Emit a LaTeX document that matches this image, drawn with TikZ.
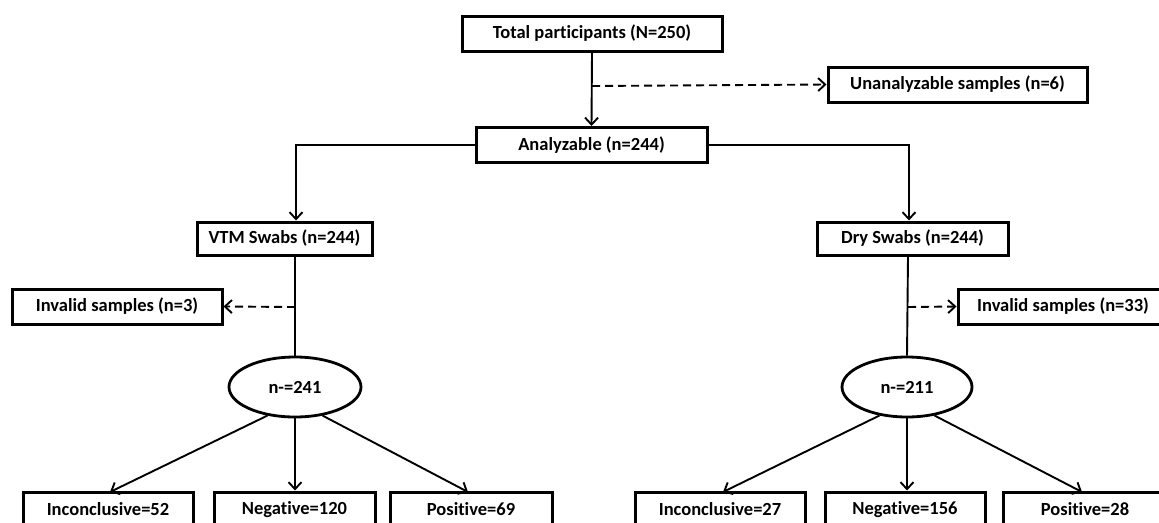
\documentclass[tikz,border=0pt]{standalone}
\usepackage{fontspec}
\setmainfont[RawFeature={-liga;-clig;-dlig;-calt}]{Carlito}
\usetikzlibrary{arrows.meta,shapes.geometric}
\tikzset{
  box/.style={draw, line width=3pt, inner sep=0pt, minimum height=35pt, font=\fontsize{18.5}{20}\selectfont\bfseries},
  oval/.style={draw, ellipse, line width=2.8pt, inner sep=0pt, minimum width=132pt, minimum height=60pt, font=\fontsize{18.5}{20}\selectfont\bfseries},
  conn/.style={line width=1.9pt},
  arr/.style={conn, -{Straight Barb[length=7pt,width=13pt,line width=1.9pt]}},
  darr/.style={arr, dash pattern=on 8pt off 5pt},
}
\begin{document}
\begin{tikzpicture}[x=1pt,y=-1pt]
\useasboundingbox (0,0) rectangle (1159,522);
\clip (0,0) rectangle (1159,522);
\fill[white] (0,0) rectangle (1159,522);
% nodes
\node[box, minimum width=260pt] (total) at (592,33.5) {Total participants (N=250)};
\node[box, minimum width=259pt] (unan) at (957.5,84.5) {Unanalyzable samples (n=6)};
\node[box, minimum width=231pt] (anal) at (591.5,145) {Analyzable (n=244)};
\node[box, minimum width=175pt, minimum height=33pt] (vtm) at (284.5,238.5) {VTM Swabs (n=244)};
\node[box, minimum width=191pt, minimum height=33pt] (dry) at (912.5,238.5) {Dry Swabs (n=244)};
\node[box, minimum width=210pt] (inv1) at (117,306.5) {Invalid samples (n=3)};
\node[box, minimum width=210pt] (inv2) at (1063,306.5) {Invalid samples (n=33)};
\node[oval] (ell1) at (295,387) {n-=241};
\node[oval, minimum width=130pt] (ell2) at (907,387) {n-=211};
\node[box, minimum width=170pt] (inc1) at (108,509.5) {Inconclusive=52};
\node[box, minimum width=161pt] (neg1) at (294.5,509.5) {Negative=120};
\node[box, minimum width=162pt] (pos1) at (471,509.5) {Positive=69};
\node[box, minimum width=170pt] (inc2) at (720,509.5) {Inconclusive=27};
\node[box, minimum width=160pt] (neg2) at (905,509.5) {Negative=156};
\node[box, minimum width=164pt] (pos2) at (1085,509.5) {Positive=28};
% helper coordinates
\coordinate (tsplit) at (592,86);
\coordinate (lcorner) at (296,145);
\coordinate (rcorner) at (909,145);
\coordinate (vsplit) at (295,307);
\coordinate (dsplit) at (908,307);
% connectors
\draw[arr] (total.south) -- (anal.north);
\draw[darr] (tsplit) -- (unan.west);
\draw[arr] (anal.west) -- (lcorner) -- (lcorner |- vtm.north);
\draw[arr] (anal.east) -- (rcorner) -- (rcorner |- dry.north);
\draw[conn] (vsplit |- vtm.south) -- (ell1.north);
\draw[conn] (dsplit |- dry.south) -- (ell2.north);
\draw[darr] (vsplit) -- (inv1.east);
\draw[darr] (dsplit) -- (inv2.west);
\draw[arr] (ell1.226) -- (110,492);
\draw[arr] (ell1.south) -- (neg1.north -| ell1.south);
\draw[arr] (ell1.-46) -- (468,492);
\draw[arr] (ell2.226) -- (723,492);
\draw[arr] (ell2.south) -- (neg2.north -| ell2.south);
\draw[arr] (ell2.-46) -- (1082,492);
\end{tikzpicture}
\end{document}
